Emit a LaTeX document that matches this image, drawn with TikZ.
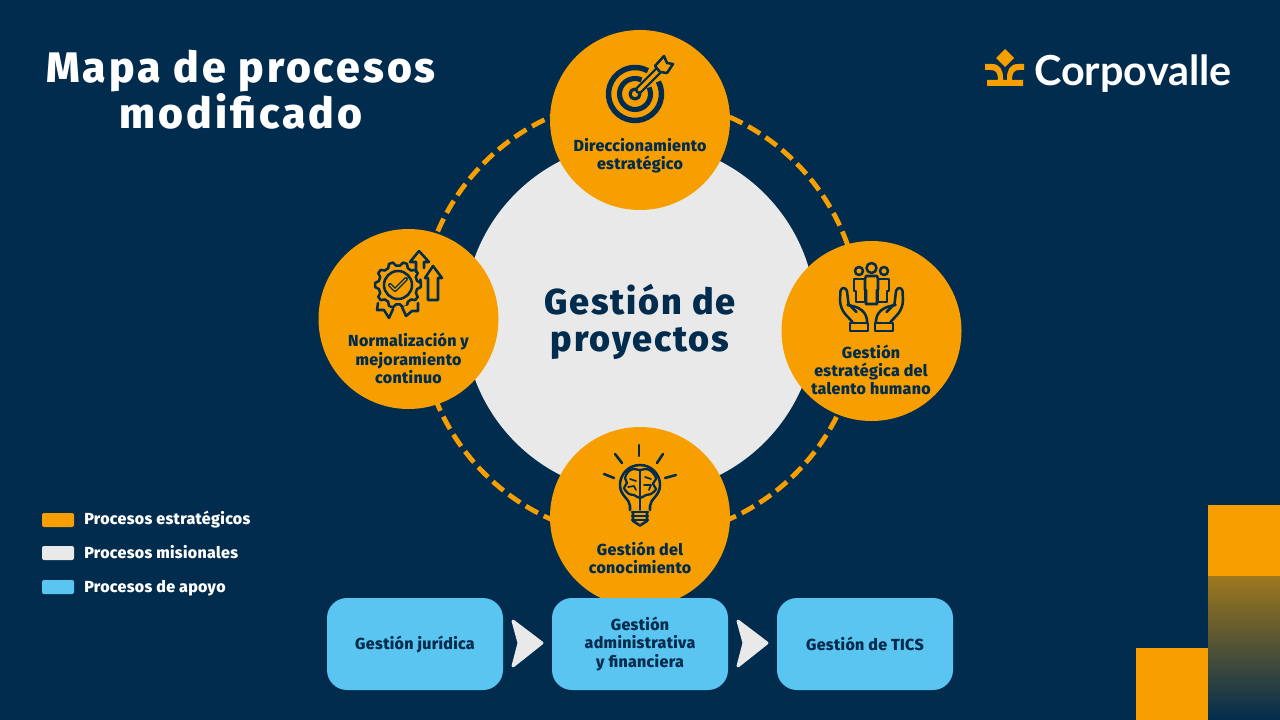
\documentclass[tikz,border=0pt]{standalone}
\usepackage{fontspec}
\setmainfont{Fira Sans}[BoldFont={Fira Sans ExtraBold}]
\newfontfamily\logofont{Lato Bold}
\usetikzlibrary{calc}
\definecolor{navy}{RGB}{2,44,78}
\definecolor{orangeC}{RGB}{247,159,0}
\definecolor{grayC}{RGB}{233,233,233}
\definecolor{blueC}{RGB}{91,197,241}
\definecolor{fadeC}{RGB}{158,120,30}
\tikzset{
  circ/.style={circle,fill=orangeC,minimum size=135pt,inner sep=0pt},
  lbl/.style={text=navy,font=\bfseries\fontsize{12pt}{13.6pt}\selectfont\addfontfeature{LetterSpace=2},align=center,inner sep=0pt},
  supbox/.style={rectangle,rounded corners=15pt,fill=blueC,minimum width=132pt,minimum height=69pt,inner sep=0pt},
  legbox/.style={rectangle,rounded corners=1.5pt,minimum width=24pt,minimum height=10.5pt,inner sep=0pt},
  legtxt/.style={text=white,font=\bfseries\fontsize{12pt}{13pt}\selectfont\addfontfeature{LetterSpace=2},anchor=west,inner sep=0pt},
  icon/.style={draw=navy,line width=1.9pt,line join=round,line cap=round,fill=none},
  chev/.style={fill=grayC,draw=grayC,line width=2.2pt,line join=round},
}
\begin{document}
\begin{tikzpicture}[x=0.75pt,y=-0.75pt]
\useasboundingbox (0,0) rectangle (1280,720);
\fill[navy] (0,0) rectangle (1280,720);
% decorative blocks
\fill[orangeC] (1208,505) rectangle (1280,576);
\shade[top color=fadeC,bottom color=navy] (1208,576) rectangle (1280,720);
\fill[orangeC] (1136,648) rectangle (1208,720);
% ring and centre
\draw[orangeC,line width=3.6pt,dash pattern=on 10.5pt off 4.9pt] (640,318) circle[radius=220];
\node[circle,fill=grayC,minimum size=264pt,inner sep=0pt] (centre) at (640,318) {};
\node[text=navy,font=\bfseries\fontsize{27pt}{28pt}\selectfont\addfontfeature{LetterSpace=5},align=center,inner sep=0pt] (centrelbl) at (640,321.5) {Gestión de\\proyectos};
% orange circles
\node[circ] (top) at (640,120) {};
\node[circ] (right) at (871.5,331) {};
\node[circ] (left) at (408.5,319) {};
\node[circ] (bottom) at (640,517) {};
\node[lbl] (toplbl) at (640,156) {Direccionamiento\\estratégico};
\node[lbl] (rightlbl) at (871,370) {Gestión\\estratégica del\\talento humano};
\node[lbl] (leftlbl) at (408.5,358.5) {Normalización y\\mejoramiento\\continuo};
\node[lbl] (bottomlbl) at (640,558) {Gestión del\\conocimiento};
% title
\node[text=white,font=\bfseries\fontsize{32pt}{31.8pt}\selectfont\addfontfeature{LetterSpace=7},align=center,inner sep=0pt] (title) at (241,90) {Mapa de procesos\\modificado};
% logo
\fill[orangeC] (1005,49) -- (1014,58) -- (1005,67) -- (996,58) -- cycle;
\fill[orangeC] (985,64) -- (992,64) .. controls (1000,64) and (1003,70) .. (1003,78) -- (1003,80) -- (1007,80) -- (1007,78) .. controls (1007,70) and (1010,64) .. (1018,64) -- (1024,64) -- (1024,70) -- (1019,70) .. controls (1014,70) and (1012,73) .. (1012,80) -- (1023,80) -- (1023,86) -- (987,86) -- (987,80) -- (998,80) .. controls (998,73) and (996,70) .. (991,70) -- (985,70) -- cycle;
\node[text=white,font=\logofont\fontsize{31pt}{32pt}\selectfont,anchor=west,inner sep=0pt] (logo) at (1034,74) {Corpovalle};
% support boxes
\node[supbox] (b1) at (415,644) {};
\node[supbox] (b2) at (640,644) {};
\node[supbox] (b3) at (865,644) {};
\node[lbl] (b1l) at (415,645) {Gestión jurídica};
\node[lbl] (b2l) at (640,644) {Gestión\\administrativa\\y financiera};
\node[lbl] (b3l) at (865,644) {Gestión de TICS};
\path[chev] (513,621) -- (542,643) -- (513,666) -- (519,643) -- cycle;
\path[chev] (738,621) -- (767,643) -- (738,666) -- (744,643) -- cycle;
% legend
\node[legbox,fill=orangeC] (l1) at (58,520) {};
\node[legbox,fill=grayC] (l2) at (58,553) {};
\node[legbox,fill=blueC] (l3) at (58,587) {};
\node[legtxt] (t1) at (84,520) {Procesos estratégicos};
\node[legtxt] (t2) at (84,552.5) {Procesos misionales};
\node[legtxt] (t3) at (84,588) {Procesos de apoyo};
% target icon
\draw[navy,line width=4.1pt] (635,94) ++(-28:26.5) arc[start angle=-28,end angle=299,radius=26.5];
\draw[navy,line width=3.8pt] (635,94) ++(-25:15.5) arc[start angle=-25,end angle=295,radius=15.5];
\draw[icon,line width=2.4pt] (635,94) circle[radius=5];
\draw[navy,line width=6pt,line cap=round] (639,90) -- (658,71);
\draw[orangeC,line width=2.4pt,line cap=round] (639,90) -- (658,71);
\draw[icon,fill=orangeC] (664,56) -- (667,63) -- (673,64) -- (667,73) -- (660,72) -- (655,66) -- cycle;
% gear icon
\begin{scope}[shift={(398,285)}]
\draw[icon] (-14:23) \foreach \a in {0,36,...,324} { -- ({\a-5}:23) -- ({\a+5}:23) -- ({\a+12}:19.5) -- ({\a+24}:19.5) -- ({\a+31}:23)} -- cycle;
\draw[icon] (0,0) circle[radius=14];
\draw[icon,line width=3pt] (-8,0) -- (-3,5) -- (8,-6);
\draw[orangeC,line width=.9pt,line cap=round,line join=round] (-8,0) -- (-3,5) -- (8,-6);
\draw[icon,fill=orangeC] (-20,18) -- (-21,25) -- (-14,25) -- (-9,33) -- (-5,24);
\draw[icon,fill=orangeC] (20,18) -- (20,26) -- (14,26) -- (8,31) -- (4,22);
\end{scope}
\draw[icon] (419,251) -- (410,262) -- (416,262) -- (416,272);
\draw[icon] (419,251) -- (429,262) -- (424,262) -- (424,268);
\draw[icon] (433,266) -- (442,278) -- (438,278) -- (438,300) -- (428,300) -- (428,278) -- (425,278) -- cycle;
% people and hands icon
\draw[icon] (859,271) circle[radius=4];
\draw[icon] (871.5,268) circle[radius=5];
\draw[icon] (884,271) circle[radius=4];
\draw[icon] (854,279) -- (865,279) -- (865,302) -- (856,302) -- (856,291) -- (854,291) -- cycle;
\draw[icon] (889,279) -- (878,279) -- (878,302) -- (887,302) -- (887,291) -- (889,291) -- cycle;
\draw[icon,fill=orangeC] (866,276) -- (877,276) -- (878,279) -- (878,290) -- (877,290) -- (877,304) -- (866,304) -- (866,290) -- (865,290) -- (865,279) -- cycle;
\foreach \sc in {1,-1}{
\begin{scope}[shift={(871.5,0)},xscale=\sc]
\draw[icon] (-19,322) .. controls (-24,316) and (-31,312) .. (-31.5,300) -- (-31,291) .. controls (-30,287) and (-26,287) .. (-24.5,291) -- (-23,304) -- (-15,312);
\draw[icon] (-24,305) .. controls (-18,306) and (-6,308) .. (-4.5,320) -- (-4.5,323);
\draw[icon] (-3.5,323) -- (-21.5,323) -- (-21.5,331) -- (-3.5,331) -- cycle;
\end{scope}}
% bulb icon
\draw[icon] (630,510) -- (630,506) .. controls (630,499) and (620,496) .. (620,485) arc[start angle=180,end angle=360,radius=20] .. controls (660,496) and (650,499) .. (650,506) -- (650,510);
\draw[icon] (632,512) -- (648,512) (632,516) -- (648,516) (632,520) -- (648,520);
\draw[icon] (633,512) -- (633,521) -- (640,525.5) -- (647,521) -- (647,512);
\draw[icon] (639,445) -- (639,456);
\draw[icon] (615,454) -- (622,463);
\draw[icon] (663,454) -- (657,463);
\draw[icon] (604,474) -- (614,478);
\draw[icon] (676,475) -- (665,478);
\draw[icon,line width=1.7pt] plot[smooth cycle,tension=.55] coordinates {(640,470) (633,469) (628,472) (625,478) (627,483) (624,488) (629,494) (634,495) (640,498) (646,495) (651,494) (656,489) (653,484) (656,478) (651,471) (646,469)};
\draw[icon,line width=1.4pt] (640,470) -- (640,510);
\draw[icon,line width=1.3pt] (630,479) -- (636,481) (628,487) -- (634,486) -- (636,490) (645,477) -- (651,479) (644,485) -- (651,485) -- (649,490);
\end{tikzpicture}
\end{document}
